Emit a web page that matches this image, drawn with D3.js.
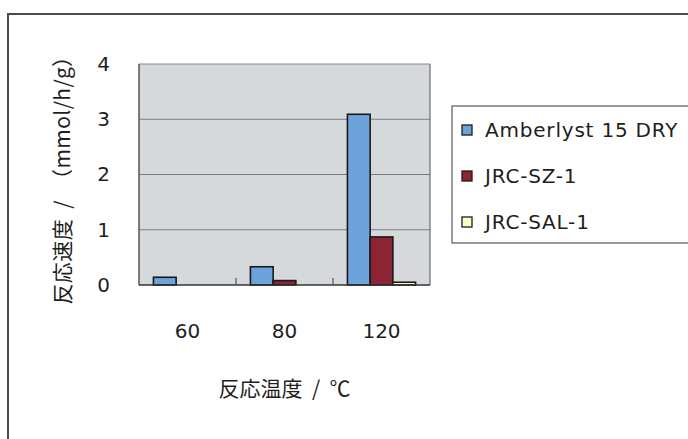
<!DOCTYPE html>
<html>
<head>
<meta charset="utf-8">
<script src="https://cdn.jsdelivr.net/npm/d3@7"></script>
<style>
  html, body { margin: 0; padding: 0; background: #ffffff; }
  svg { display: block; }
  text { font-family: "DejaVu Sans", "Noto Sans CJK JP", sans-serif; fill: #1e1e1e; }
  .cjk { font-family: "Noto Sans CJK JP", "DejaVu Sans", sans-serif; }
</style>
</head>
<body>
<svg id="chart" width="688" height="439"></svg>
<script>
// Reaction temperature categories (°C)
const categories = ["60", "80", "120"];
// Catalyst series
const seriesNames = ["Amberlyst 15 DRY", "JRC-SZ-1", "JRC-SAL-1"];
// Reaction rate values (mmol/h/g) per catalyst, one per temperature
const amberlyst = [0.14, 0.33, 3.09];
const jrcSz = [0.0, 0.08, 0.87];
const jrcSal = [0.0, 0.0, 0.05];
const yTicks = [0, 1, 2, 3, 4];

const seriesValues = [amberlyst, jrcSz, jrcSal];
const colors = ["#6ea2db", "#8c2434", "#ffffc6"];

const svg = d3.select("#chart");

// outer frame of the chart sheet
svg.append("rect")
  .attr("x", 8).attr("y", 14)
  .attr("width", 720).attr("height", 460)
  .attr("fill", "#ffffff")
  .attr("stroke", "#4a4a4a").attr("stroke-width", 2);

const plot = { left: 139, right: 430, top: 64, bottom: 285 };

const x = d3.scaleBand().domain(categories).range([plot.left, plot.right]).padding(0);
const xs = d3.scaleBand().domain(seriesNames).range([0, x.bandwidth()])
  .paddingInner(0).paddingOuter(0.635);
const y = d3.scaleLinear().domain([0, 4]).range([plot.bottom, plot.top]);

// plot area background
svg.append("rect")
  .attr("x", plot.left).attr("y", plot.top)
  .attr("width", plot.right - plot.left).attr("height", plot.bottom - plot.top)
  .attr("fill", "#d6d9dc");

// horizontal gridlines
svg.append("g").selectAll("line")
  .data(yTicks.filter(t => t > 0 && t < 4))
  .join("line")
  .attr("x1", plot.left).attr("x2", plot.right)
  .attr("y1", d => y(d)).attr("y2", d => y(d))
  .attr("stroke", "#7c7c7c").attr("stroke-width", 1.2);

// plot area border
svg.append("line").attr("x1", plot.left).attr("x2", plot.right)
  .attr("y1", plot.top).attr("y2", plot.top)
  .attr("stroke", "#8a8a8a").attr("stroke-width", 1.2);
svg.append("line").attr("x1", plot.right).attr("x2", plot.right)
  .attr("y1", plot.top).attr("y2", plot.bottom)
  .attr("stroke", "#6a6a6a").attr("stroke-width", 1.2);
svg.append("line").attr("x1", plot.left).attr("x2", plot.left)
  .attr("y1", plot.top).attr("y2", plot.bottom)
  .attr("stroke", "#4a4a4a").attr("stroke-width", 1.4);

// bars
const rows = [];
categories.forEach((c, i) => {
  seriesNames.forEach((s, j) => rows.push({ cat: c, series: s, j, value: seriesValues[j][i] }));
});
svg.append("g").selectAll("rect")
  .data(rows.filter(d => d.value > 0))
  .join("rect")
  .attr("x", d => x(d.cat) + xs(d.series))
  .attr("y", d => y(d.value))
  .attr("width", xs.bandwidth())
  .attr("height", d => y(0) - y(d.value))
  .attr("fill", d => colors[d.j])
  .attr("stroke", "#1a1a1a").attr("stroke-width", 1.6);

// x axis line and category divider ticks
svg.append("line").attr("x1", plot.left).attr("x2", plot.right)
  .attr("y1", plot.bottom).attr("y2", plot.bottom)
  .attr("stroke", "#333333").attr("stroke-width", 1.5);
svg.append("g").selectAll("line")
  .data(categories.slice(1))
  .join("line")
  .attr("x1", d => x(d)).attr("x2", d => x(d))
  .attr("y1", plot.bottom).attr("y2", plot.bottom - 7)
  .attr("stroke", "#555555").attr("stroke-width", 1.2);

// axes labels
const xAxis = svg.append("g")
  .attr("transform", `translate(0,${plot.bottom})`)
  .call(d3.axisBottom(x).tickSize(0).tickPadding(39));
xAxis.select(".domain").remove();
xAxis.selectAll("text").style("font-size", "20px").attr("fill", "#1e1e1e");

const yAxis = svg.append("g")
  .attr("transform", `translate(${plot.left},0)`)
  .call(d3.axisLeft(y).tickValues(yTicks).tickFormat(d3.format("d")).tickSize(0).tickPadding(29));
yAxis.select(".domain").remove();
yAxis.selectAll("text").style("font-size", "20px").attr("fill", "#1e1e1e");

// axis titles
svg.append("text")
  .attr("class", "cjk")
  .attr("x", (plot.left + plot.right) / 2).attr("y", 396)
  .attr("text-anchor", "middle")
  .style("font-size", "21px")
  .style("white-space", "pre")
  .text("反応温度  /  ℃");

svg.append("text")
  .attr("class", "cjk")
  .attr("transform", "translate(70,175) rotate(-90)")
  .attr("text-anchor", "middle")
  .style("font-size", "21px")
  .style("letter-spacing", "0.4px")
  .style("white-space", "pre")
  .text("反応速度  /  （mmol/h/g）");

// legend
const legend = svg.append("g");
legend.append("rect")
  .attr("x", 452).attr("y", 106)
  .attr("width", 260).attr("height", 137)
  .attr("fill", "#ffffff")
  .attr("stroke", "#666666").attr("stroke-width", 1.3);
const legendY = [130, 176, 222];
seriesNames.forEach((s, j) => {
  legend.append("rect")
    .attr("x", 462).attr("y", legendY[j] - 5)
    .attr("width", 10).attr("height", 10)
    .attr("fill", colors[j])
    .attr("stroke", "#1c1c1c").attr("stroke-width", 1.3);
  legend.append("text")
    .attr("x", 485).attr("y", legendY[j] + 7)
    .style("font-size", "20px")
    .style("letter-spacing", "0.8px")
    .text(s);
});
</script>
</body>
</html>
